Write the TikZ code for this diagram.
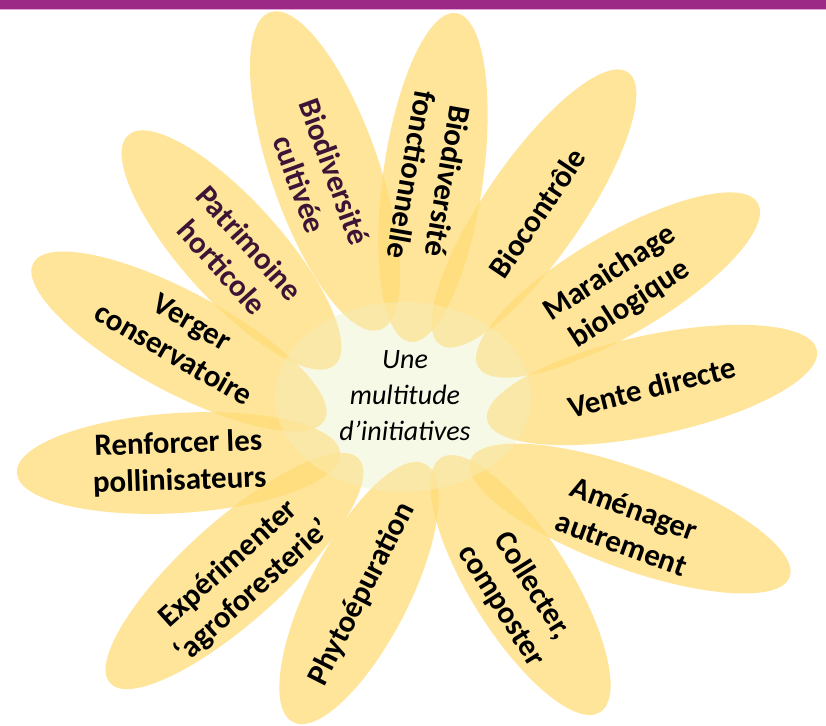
\documentclass[tikz,border=0pt]{standalone}
\usepackage{fontspec}
\setmainfont{Carlito}
\usetikzlibrary{shapes.geometric}
\definecolor{barc}{HTML}{9B2985}
\definecolor{barline}{HTML}{E2A6D6}
\definecolor{petalc}{RGB}{255,220,119}
\definecolor{corec}{HTML}{F7F9E7}
\definecolor{plum}{HTML}{3C1436}
\tikzset{
  petal/.style={ellipse, fill=petalc, fill opacity=0.74, draw=none, inner sep=0pt},
  lbl/.style={font=\bfseries\fontsize{31}{37}\selectfont, align=center, inner sep=0pt, text=black},
  core/.style={ellipse, fill=corec, draw=none, inner sep=0pt},
  coreglow/.style={ellipse, fill=corec, fill opacity=0.25, draw=none, inner sep=0pt},
  coretext/.style={font=\itshape\fontsize{28}{36}\selectfont, align=center, inner sep=0pt, text=black}
}
\begin{document}
\begin{tikzpicture}[x=1pt, y=-1pt]
\useasboundingbox (0,0) rectangle (826,725);
\fill[white] (0,0) rectangle (826,725);
\fill[barc] (0,0) rectangle (826,9);
\fill[barline] (0,9) rectangle (826,10.5);
% centre
\node[core, minimum width=256pt, minimum height=190pt] (core) at (403,397) {};
% petals
\node[petal, minimum width=336pt, minimum height=108pt, rotate=109.1] (p1) at (325,171) {};
\node[petal, minimum width=332pt, minimum height=100pt, rotate=82.0] (p2) at (433,177.5) {};
\node[petal, minimum width=331pt, minimum height=98pt, rotate=55.4] (p3) at (534,208.5) {};
\node[petal, minimum width=324pt, minimum height=100pt, rotate=30.4] (p4) at (618,285) {};
\node[petal, minimum width=337pt, minimum height=100pt, rotate=12.0] (p5) at (652,385) {};
\node[petal, minimum width=340pt, minimum height=100pt, rotate=-20.1] (p6) at (630,518.5) {};
\node[petal, minimum width=300pt, minimum height=100pt, rotate=-58.0] (p7) at (520.5,585) {};
\node[petal, minimum width=290pt, minimum height=100pt, rotate=62.9] (p8) at (359,593) {};
\node[petal, minimum width=335pt, minimum height=100pt, rotate=42.0] (p9) at (234.5,571) {};
\node[petal, minimum width=324pt, minimum height=100pt, rotate=3.5] (p10) at (178.5,463) {};
\node[petal, minimum width=331pt, minimum height=100pt, rotate=-28.3] (p11) at (179,341.5) {};
\node[petal, minimum width=309pt, minimum height=100pt, rotate=-48.0] (p12) at (231.5,250) {};
\node[coreglow, minimum width=256pt, minimum height=190pt] (glow) at (403,397) {};
% labels
\node[lbl, text=plum, rotate=-70] (t1) at (317,178) {Biodiversité\\cultivée};
\node[lbl, rotate=-100] (t2) at (430,178) {Biodiversité\\fonctionnelle};
\node[lbl, rotate=56] (t3) at (537,213) {Biocontrôle};
\node[lbl, rotate=33] (t4) at (620,289) {Maraichage\\biologique};
\node[lbl, rotate=14] (t5) at (652,387) {Vente directe};
\node[lbl, rotate=-20] (t6) at (628,526) {Aménager\\autrement};
\node[lbl, rotate=-58] (t7) at (517,596) {Collecter,\\composter};
\node[lbl, rotate=63] (t8) at (362,594) {Phytoépuration};
\node[lbl, rotate=42] (t9) at (241,578) {Expérimenter\\‘agroforesterie’};
\node[lbl, rotate=2] (t10) at (179,463) {Renforcer les\\pollinisateurs};
\node[lbl, rotate=-30] (t11) at (183,338) {Verger\\conservatoire};
\node[lbl, text=plum, rotate=-48] (t12) at (236,255) {Patrimoine\\horticole};
\node[coretext] (ct) at (405,396) {Une\\multitude\\d’initiatives};
\end{tikzpicture}
\end{document}
